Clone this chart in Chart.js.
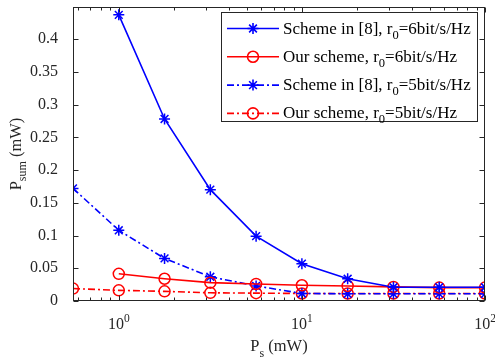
<!DOCTYPE html>
<html>
<head>
<meta charset="utf-8">
<script src="https://cdn.jsdelivr.net/npm/chart.js@4"></script>
<style>
  html, body { margin: 0; padding: 0; background: #fff; }
  #wrap { width: 495px; height: 362px; }
</style>
</head>
<body>
<div id="wrap"><canvas id="chart"></canvas></div>
<script>
// P_s values (mW), quarter-decade steps
const psValues = [0.5623, 1, 1.778, 3.162, 5.623, 10, 17.78, 31.62, 56.23, 100];

// P_sum (mW) for each scheme, null where there is no point
const scheme8R6 = [null, 0.437, 0.278, 0.170, 0.099, 0.057, 0.034, 0.021, 0.021, 0.021];
const oursR6 = [null, 0.0415, 0.034, 0.028, 0.026, 0.024, 0.023, 0.0215, 0.0205, 0.0205];
const scheme8R5 = [0.172, 0.108, 0.065, 0.037, 0.023, 0.0115, 0.011, 0.011, 0.011, 0.011];
const oursR5 = [0.019, 0.0163, 0.0147, 0.0125, 0.012, 0.0115, 0.0115, 0.0115, 0.0115, 0.0115];

const legendNames = ['Scheme in [8], r', 'Our scheme, r', 'Scheme in [8], r', 'Our scheme, r'];
const legendRates = ['6bit/s/Hz', '6bit/s/Hz', '5bit/s/Hz', '5bit/s/Hz'];

const yTicks = [0, 0.05, 0.1, 0.15, 0.2, 0.25, 0.3, 0.35, 0.4];
const xTicks = [1, 10, 100];
const xTickExp = ['0', '1', '2'];

const serif = '"Liberation Serif", "Times New Roman", serif';
const axisColor = '#262626';
const dashDot = [7, 3, 2, 3];

function points(arr) {
  return psValues.map((x, i) => ({ x: x, y: arr[i] })).filter(p => p.y !== null);
}

function series(label, arr, color, style, dash) {
  return {
    label: label,
    data: points(arr),
    borderColor: color,
    backgroundColor: 'rgba(0,0,0,0)',
    borderWidth: 1.6,
    borderDash: dash,
    pointStyle: style,
    pointRadius: style === 'circle' ? 5.5 : 5.5,
    pointBorderWidth: 1.5,
    pointBorderColor: color,
    pointBackgroundColor: 'rgba(0,0,0,0)',
    tension: 0
  };
}

// text with a sub/superscript part: [text, shift] pieces
function drawPieces(ctx, pieces, x, y, big, small) {
  let cx = x;
  pieces.forEach(p => {
    ctx.font = (p[1] ? small : big) + 'px ' + serif;
    ctx.fillText(p[0], cx, y + p[1]);
    cx += ctx.measureText(p[0]).width;
  });
  return cx - x;
}

function piecesWidth(ctx, pieces, big, small) {
  let w = 0;
  pieces.forEach(p => {
    ctx.font = (p[1] ? small : big) + 'px ' + serif;
    w += ctx.measureText(p[0]).width;
  });
  return w;
}

const matlabAxes = {
  id: 'matlabAxes',
  afterDraw(chart) {
    const { ctx, chartArea: a, scales: { x, y } } = chart;
    ctx.save();
    ctx.strokeStyle = axisColor;
    ctx.fillStyle = axisColor;
    ctx.lineWidth = 1;
    ctx.setLineDash([]);

    const L = Math.round(a.left) + 0.5, R = Math.round(a.right) - 0.5;
    const T = Math.round(a.top) + 0.5, B = Math.round(a.bottom) - 0.5;
    ctx.strokeRect(L, T, R - L, B - T);

    ctx.beginPath();
    yTicks.forEach(v => {
      const py = Math.round(y.getPixelForValue(v)) + 0.5;
      ctx.moveTo(L, py); ctx.lineTo(L + 5, py);
      ctx.moveTo(R, py); ctx.lineTo(R - 5, py);
    });
    for (let d = -1; d <= 2; d++) {
      for (let m = 1; m <= 9; m++) {
        const v = m * Math.pow(10, d);
        if (v < x.min - 1e-9 || v > x.max + 1e-9) continue;
        const px = Math.round(x.getPixelForValue(v)) + 0.5;
        const len = m === 1 ? 5 : 3;
        ctx.moveTo(px, B); ctx.lineTo(px, B - len);
        ctx.moveTo(px, T); ctx.lineTo(px, T + len);
      }
    }
    ctx.stroke();

    // x tick labels 10^n
    ctx.textBaseline = 'alphabetic';
    ctx.textAlign = 'left';
    xTicks.forEach((v, i) => {
      const pcs = [['10', 0], [xTickExp[i], -7]];
      const w = piecesWidth(ctx, pcs, 16, 11.5);
      drawPieces(ctx, pcs, x.getPixelForValue(v) - w / 2, 329, 16, 11.5);
    });

    // x title
    const xt = [['P', 0], ['s', 6], [' (mW)', 0]];
    const xw = piecesWidth(ctx, xt, 16.5, 12);
    drawPieces(ctx, xt, (a.left + a.right) / 2 - xw / 2, 351, 16.5, 12);

    // y title
    ctx.save();
    ctx.translate(21, (a.top + a.bottom) / 2);
    ctx.rotate(-Math.PI / 2);
    const yt = [['P', 0], ['sum', 5], [' (mW)', 0]];
    const yw = piecesWidth(ctx, yt, 16.5, 12);
    drawPieces(ctx, yt, -yw / 2, 0, 16.5, 12);
    ctx.restore();

    // legend
    const bx = 221.5, by = 12.5, bw = 256, bh = 109;
    ctx.fillStyle = '#fff';
    ctx.fillRect(bx, by, bw, bh);
    ctx.strokeStyle = axisColor;
    ctx.strokeRect(bx, by, bw, bh);
    chart.data.datasets.forEach((ds, i) => {
      const ry = 28.5 + i * 28.3;
      ctx.strokeStyle = ds.borderColor;
      ctx.lineWidth = ds.borderWidth;
      ctx.setLineDash(ds.borderDash || []);
      ctx.beginPath();
      ctx.moveTo(227, ry); ctx.lineTo(279, ry);
      ctx.stroke();
      ctx.setLineDash([]);
      ctx.fillStyle = 'rgba(0,0,0,0)';
      Chart.helpers.drawPoint(ctx, {
        pointStyle: ds.pointStyle, radius: ds.pointRadius, rotation: 0, borderWidth: ds.pointBorderWidth
      }, 253, ry);
      ctx.fillStyle = '#000';
      ctx.textBaseline = 'alphabetic';
      drawPieces(ctx, [[legendNames[i], 0], ['0', 5], ['=' + legendRates[i], 0]], 283, ry + 5, 17, 12.5);
    });

    ctx.restore();
  }
};

const datasets = [
  series('Scheme in [8], r0=6bit/s/Hz', scheme8R6, 'rgb(0,0,255)', 'star', []),
  series('Our scheme, r0=6bit/s/Hz', oursR6, 'rgb(255,0,0)', 'circle', []),
  series('Scheme in [8], r0=5bit/s/Hz', scheme8R5, 'rgb(0,0,255)', 'star', dashDot),
  series('Our scheme, r0=5bit/s/Hz', oursR5, 'rgb(255,0,0)', 'circle', dashDot)
];

new Chart(document.getElementById('chart'), {
  type: 'line',
  data: { datasets: datasets },
  options: {
    responsive: true,
    maintainAspectRatio: false,
    animation: false,
    layout: { padding: { top: 3, right: 10, left: 0, bottom: 0 } },
    plugins: { legend: { display: false }, tooltip: { enabled: false } },
    scales: {
      x: {
        type: 'logarithmic',
        min: 0.5623,
        max: 100,
        grid: { display: false },
        border: { display: false },
        ticks: { display: false },
        afterFit: s => { s.height = 61; s.paddingLeft = 0; s.paddingRight = 0; }
      },
      y: {
        type: 'linear',
        min: 0,
        max: 0.449,
        grid: { display: false },
        border: { display: false },
        afterBuildTicks: s => { s.ticks = yTicks.map(v => ({ value: v })); },
        ticks: {
          padding: 7,
          color: axisColor,
          font: { family: serif, size: 16 },
          callback: v => String(+Number(v).toFixed(2))
        },
        afterFit: s => { s.width = 73; s.paddingTop = 0; s.paddingBottom = 0; }
      }
    }
  },
  plugins: [matlabAxes]
});
</script>
</body>
</html>
